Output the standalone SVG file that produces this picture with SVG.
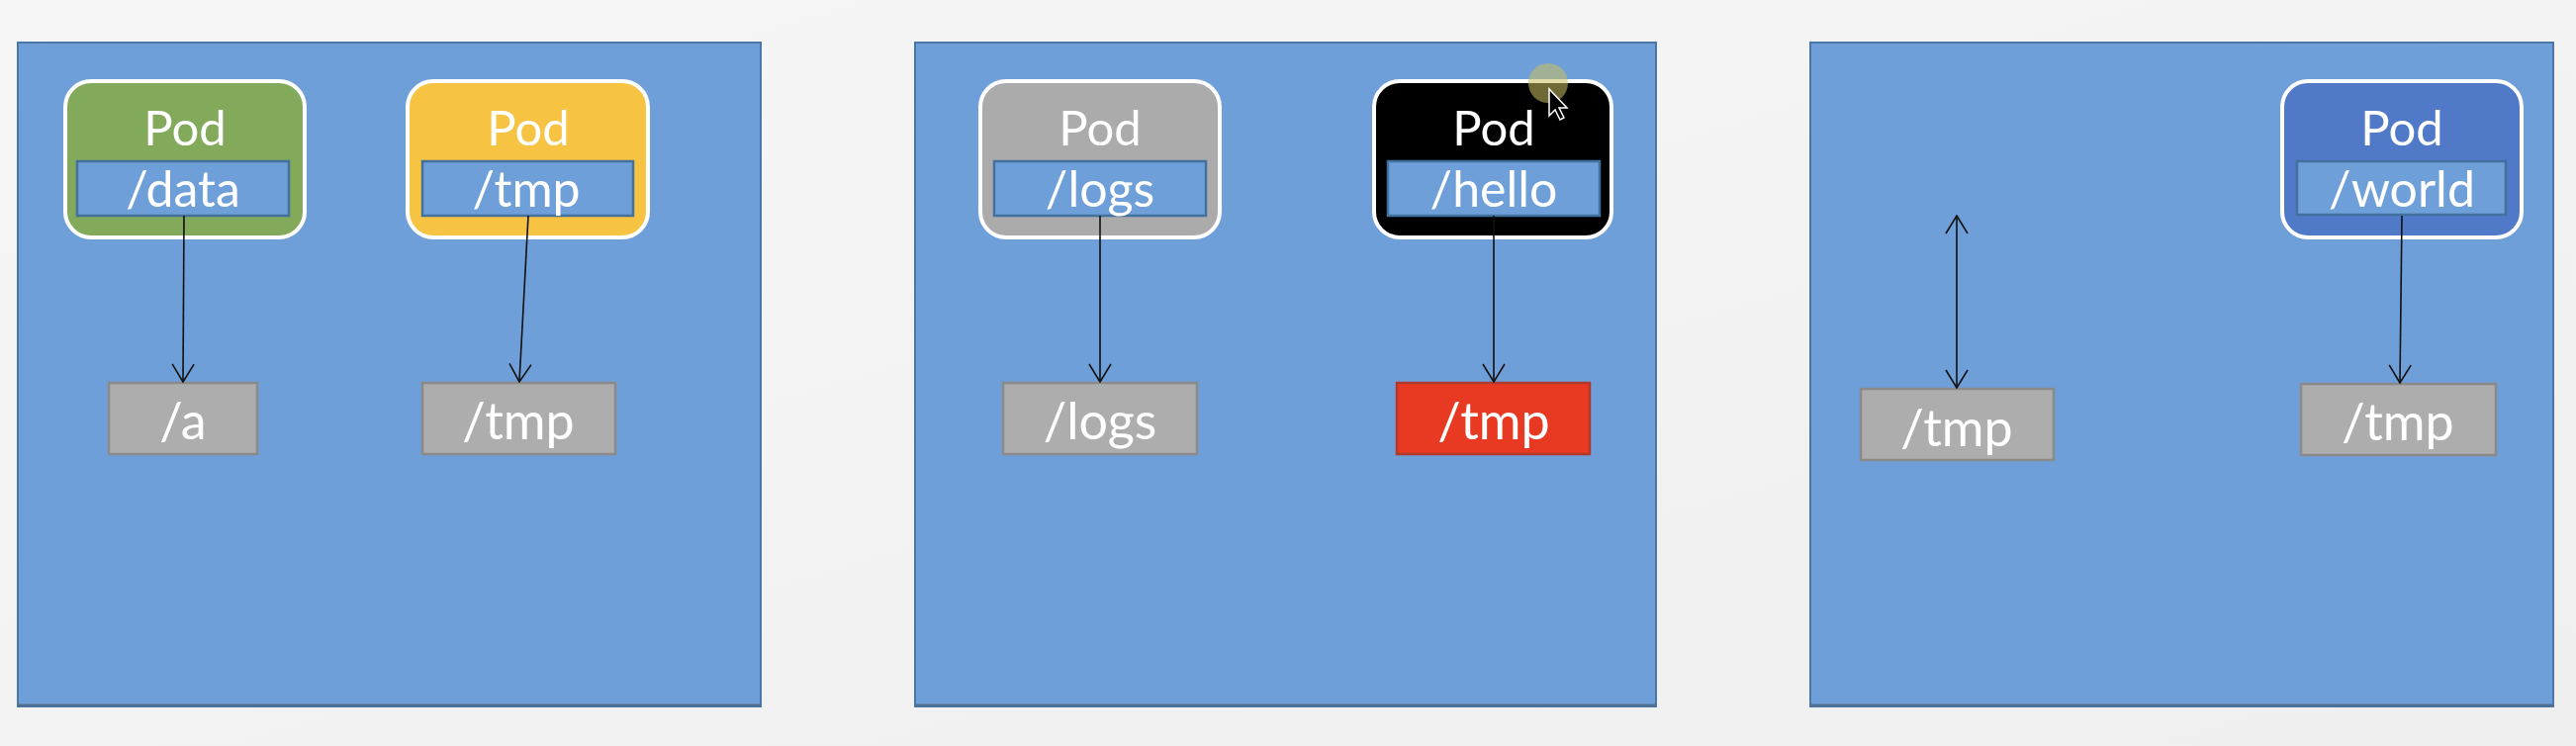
<svg xmlns="http://www.w3.org/2000/svg" width="2604" height="754" viewBox="0 0 2604 754">
<defs>
<linearGradient id="bg" x1="0" y1="0" x2="1" y2="1">
<stop offset="0" stop-color="#f6f6f6"/>
<stop offset="1" stop-color="#efefef"/>
</linearGradient>
<marker id="arr" markerUnits="userSpaceOnUse" markerWidth="20" markerHeight="24" viewBox="0 0 20 24" refX="19" refY="12" orient="auto-start-reverse">
<path d="M1,1 L19,12 L1,23" fill="none" stroke="#111" stroke-width="1.6"/>
</marker>
<style>
.panel{fill:#6f9fd8;stroke:#4a77a8;stroke-width:2}
.pshadow{stroke:#4f6f94;stroke-width:3}
.pod{stroke:#ffffff;stroke-width:4}
.inner{fill:#6f9fd8;stroke:#41719c;stroke-width:2.5}
.box{fill:#adadad;stroke:#8a8a8a;stroke-width:2.5}
.red{fill:#e83a23;stroke:#b0392a;stroke-width:2.5}
text{font-family:Lato,"Open Sans","Liberation Sans",sans-serif;fill:#ffffff;text-anchor:middle}
.t0{font-size:49px}
.t1{font-size:50px}
.t2{font-size:52px}
.conn line{stroke:#111;stroke-width:1.6;marker-end:url(#arr)}
</style>
</defs>
<rect x="0" y="0" width="2604" height="754" fill="url(#bg)"/>

<g id="panel1"><rect class="panel" x="18" y="43" width="751" height="671"/><line class="pshadow" x1="18" y1="713" x2="769" y2="713"/></g>
<g id="panel2"><rect class="panel" x="925" y="43" width="749" height="671"/><line class="pshadow" x1="925" y1="713" x2="1674" y2="713"/></g>
<g id="panel3"><rect class="panel" x="1830" y="43" width="751" height="671"/><line class="pshadow" x1="1830" y1="713" x2="2581" y2="713"/></g>

<g id="pod-data">
<rect class="pod" x="66" y="82" width="242" height="158" rx="26" fill="#82aa5a"/>
<text class="t0" x="187" y="147">Pod</text>
<rect class="inner" x="78" y="163" width="214" height="55"/>
<text class="t1" x="185" y="209">/data</text>
</g>
<g id="pod-tmp">
<rect class="pod" x="412" y="82" width="243" height="158" rx="26" fill="#f6c342"/>
<text class="t0" x="534" y="147">Pod</text>
<rect class="inner" x="427" y="163" width="213" height="55"/>
<text class="t1" x="532" y="209">/tmp</text>
</g>
<g id="vol-a"><rect class="box" x="110" y="387" width="150" height="72"/><text class="t2" x="185" y="444">/a</text></g>
<g id="vol-tmp1"><rect class="box" x="427" y="387" width="195" height="72"/><text class="t2" x="524" y="444">/tmp</text></g>

<g id="pod-logs">
<rect class="pod" x="991" y="82" width="242" height="158" rx="26" fill="#ababab"/>
<text class="t0" x="1112" y="147">Pod</text>
<rect class="inner" x="1005" y="163" width="214" height="55"/>
<text class="t1" x="1112" y="209">/logs</text>
</g>
<g id="pod-hello">
<rect class="pod" x="1389" y="82" width="240" height="158" rx="26" fill="#000000"/>
<text class="t0" x="1510" y="147">Pod</text>
<rect class="inner" x="1403" y="163" width="214" height="55"/>
<text class="t1" x="1510" y="209">/hello</text>
</g>
<g id="vol-logs"><rect class="box" x="1014" y="387" width="196" height="72"/><text class="t2" x="1112" y="444">/logs</text></g>
<g id="vol-tmp2"><rect class="red" x="1412" y="387" width="195" height="72"/><text class="t2" x="1510" y="444">/tmp</text></g>

<g id="pod-world">
<rect class="pod" x="2307" y="82" width="242" height="158" rx="26" fill="#5079c8"/>
<text class="t0" x="2428" y="147">Pod</text>
<rect class="inner" x="2322" y="163" width="211" height="54"/>
<text class="t1" x="2428" y="209">/world</text>
</g>
<g id="vol-tmp3"><rect class="box" x="1881" y="393" width="195" height="72"/><text class="t2" x="1978" y="451">/tmp</text></g>
<g id="vol-tmp4"><rect class="box" x="2326" y="388" width="197" height="72"/><text class="t2" x="2424" y="445">/tmp</text></g>

<g id="connectors" class="conn">
<line x1="186" y1="218" x2="185" y2="386"/>
<line x1="534" y1="218" x2="525" y2="386"/>
<line x1="1112" y1="218" x2="1112" y2="386"/>
<line x1="1510" y1="218" x2="1510" y2="386"/>
<line x1="1978" y1="218" x2="1978" y2="392" style="marker-start:url(#arr)"/>
<line x1="2428" y1="218" x2="2426" y2="387"/>
</g>

<g id="cursor">
<circle cx="1565" cy="84" r="20" fill="#c8c060" opacity="0.55"/>
<path d="M1566,90 L1566,117 L1572,111 L1577,121 L1581,119 L1576,109 L1584,109 Z" fill="#000" stroke="#fff" stroke-width="1.5"/>
</g>
</svg>
